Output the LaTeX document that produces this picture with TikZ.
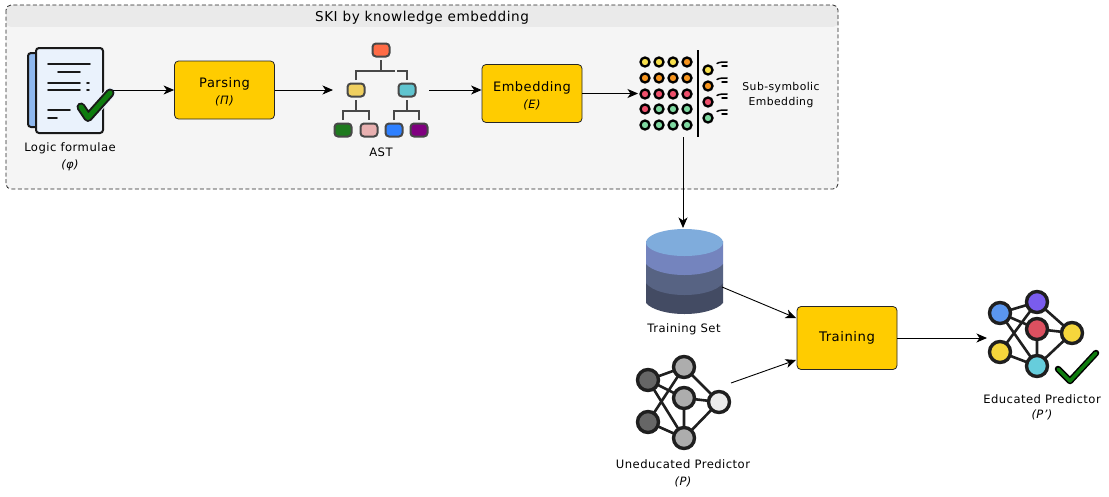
\documentclass[tikz,border=0pt]{standalone}
\usepackage{fontspec}
\setmainfont[LetterSpace=4]{DejaVu Sans}
\usetikzlibrary{arrows.meta}
\definecolor{boxyellow}{HTML}{FFCC00}
\definecolor{grpfill}{HTML}{F5F5F5}
\definecolor{grphead}{HTML}{EAEAEA}
\definecolor{chk}{HTML}{0E7C0E}
\definecolor{astline}{HTML}{484848}
\definecolor{dotyel}{HTML}{F7DF4B}
\definecolor{dotora}{HTML}{F7941D}
\definecolor{dotred}{HTML}{EE4F6B}
\definecolor{dotgrn}{HTML}{7ED8A0}
\definecolor{pagefill}{HTML}{EAF2FC}
\definecolor{pageback}{HTML}{8FB8EE}
\tikzset{
  x=1pt,y=-1pt,
  conn/.style={draw=black,line width=0.9pt,-{Stealth[length=10.5pt,width=9pt,inset=3pt]}},
  procbox/.style={draw=black!85,line width=0.8pt,fill=boxyellow,rounded corners=4pt,align=center,inner sep=0pt,font=\fontsize{13}{17}\selectfont},
  lbl/.style={align=center,inner sep=0pt,font=\fontsize{11.6}{17}\selectfont},
  astbox/.style={draw=astline,line width=2pt,rounded corners=3.5pt,minimum width=17pt,minimum height=13pt,inner sep=0pt},
  astlink/.style={draw=astline,line width=1.8pt},
  dotn/.style={circle,draw=black,line width=2.3pt,minimum size=9pt,inner sep=0pt},
  nnode/.style={circle,draw=black!88,line width=3.4pt,minimum size=21pt,inner sep=0pt},
  nlink/.style={draw=black!88,line width=2.6pt},
  doctext/.style={draw=black!90,line width=1.7pt,line cap=round},
}
\newcommand{\subi}[1]{{\fontsize{11.5}{12}\selectfont\itshape #1}}
\begin{document}
\begin{tikzpicture}
\useasboundingbox (0,0) rectangle (1109,496);
\fill[white] (0,0) rectangle (1109,496);
% group
\fill[grpfill,rounded corners=5pt] (6,5) rectangle (838,189);
\fill[grphead,rounded corners=5pt] (6,5) -- (838,5) -- (838,27) -- (6,27) -- cycle;
\fill[grpfill] (6,27) rectangle (838,40);
\draw[black!85,line width=0.8pt,dash pattern=on 4pt off 2.5pt,rounded corners=5pt] (6,5) rectangle (838,189);
\node[inner sep=0pt,font=\fontsize{13.6}{15}\selectfont] (title) at (422,18) {SKI by knowledge embedding};

% document icon
\node[inner sep=0pt,minimum width=85pt,minimum height=85pt] (doc) at (70.5,90) {};
\draw[black!90,line width=2pt,fill=pageback,rounded corners=3pt] (28,53) rectangle (44,127);
\draw[black!90,line width=2pt,fill=pagefill,rounded corners=3pt] (36,48) rectangle (103,133);
\draw[doctext] (48,64) -- (90,64) (58,72) -- (80,72) (48,83) -- (80,83) (87,83) -- (89,83) (48,90) -- (80,90) (87,90) -- (89,90) (48,110) -- (70,110) (48,118) -- (57,118);
\draw[pagefill,line width=11pt,line cap=round,line join=round] (81,107) -- (88,117.5) -- (110,93);
\draw[black!90,line width=9pt,line cap=round,line join=round] (81,107) -- (88,117.5) -- (110,93);
\draw[chk,line width=5pt,line cap=round,line join=round] (81,107) -- (88,117.5) -- (110,93);
\node[lbl] (doclbl) at (70,157) {Logic formulae\\\subi{(φ)}};

% boxes
\node[procbox,minimum width=100pt,minimum height=58pt] (parse) at (224.5,90) {\rule{0pt}{14.5pt}Parsing\\\subi{(Π)}};
\node[procbox,minimum width=100pt,minimum height=58pt] (embed) at (532,93.5) {\rule{0pt}{14.5pt}Embedding\\\subi{(E)}};
\node[procbox,minimum width=100pt,minimum height=63pt,font=\fontsize{13.2}{16}\selectfont] (train) at (847,338) {Training};

% AST icon
\node[inner sep=0pt,minimum width=96pt,minimum height=94pt] (ast) at (381,90) {};
\draw[astlink] (381,60) -- (381,71) (356,80) -- (356,71) -- (395,71) (397,71) -- (407,71) -- (407,80);
\draw[astlink] (356,100) -- (356,111) (343,120) -- (343,111) -- (369,111) -- (369,120);
\draw[astlink] (407,100) -- (407,111) (394,120) -- (394,111) -- (419,111) -- (419,120);
\node[astbox,fill={rgb,255:red,255;green,107;blue,69}] (a0) at (381,50) {};
\node[astbox,fill={rgb,255:red,240;green,208;blue,96}] (a1) at (356,90) {};
\node[astbox,fill={rgb,255:red,95;green,196;blue,207}] (a2) at (407,90) {};
\node[astbox,fill={rgb,255:red,30;green,122;blue,30}] (a3) at (343,130) {};
\node[astbox,fill={rgb,255:red,232;green,176;blue,176}] (a4) at (369,130) {};
\node[astbox,fill={rgb,255:red,46;green,128;blue,255}] (a5) at (394,130) {};
\node[astbox,fill={rgb,255:red,128;green,0;blue,128}] (a6) at (419,130) {};
\node[lbl] (astlbl) at (381,152) {AST};

% sub-symbolic icon
\node[inner sep=0pt,minimum width=91pt,minimum height=87pt] (subs) at (683.5,93.5) {};
\foreach \x/\c [count=\i] in {645/dotyel,659/dotyel,673/dotyel,687/dotora} \node[dotn,fill=\c] (r1\i) at (\x,62) {};
\foreach \x [count=\i] in {645,659,673,687} \node[dotn,fill=dotora] (r2\i) at (\x,78) {};
\foreach \x [count=\i] in {645,659,673,687} \node[dotn,fill=dotred] (r3\i) at (\x,94) {};
\foreach \x/\c [count=\i] in {645/dotred,659/dotgrn,673/dotgrn,687/dotgrn} \node[dotn,fill=\c] (r4\i) at (\x,109) {};
\foreach \x [count=\i] in {645,659,673,687} \node[dotn,fill=dotgrn] (r5\i) at (\x,125) {};
\draw[black,line width=2pt] (698,50) -- (698,137);
\foreach \y/\c [count=\i] in {70/dotyel,86/dotora,102/dotred,118/dotgrn}{
  \node[dotn,fill=\c] (o\i) at (708,\y) {};
  \draw[black,line width=1.5pt,line cap=round] (717,\y-6.5) .. controls (719,\y-8) and (723,\y-8) .. (727,\y-8);
  \draw[black,line width=1.5pt,line cap=round] (722,\y-4) -- (727,\y-4);
}
\node[lbl,font=\fontsize{10.8}{15}\selectfont] (subslbl) at (781,95) {Sub-symbolic\\Embedding};

% training set cylinder
\node[inner sep=0pt,minimum width=77pt,minimum height=86pt] (cyl) at (684.5,271) {};
\fill[fill={rgb,255:red,67;green,75;blue,99}] (646,283) -- (646,303) .. controls (652,310) and (668,314) .. (684.5,314) .. controls (701,314) and (717,310) .. (723,303) -- (723,283) -- cycle;
\fill[fill={rgb,255:red,87;green,99;blue,131}] (646,264) -- (646,283) .. controls (652,291) and (668,295) .. (684.5,295) .. controls (701,295) and (717,291) .. (723,283) -- (723,264) -- cycle;
\fill[fill={rgb,255:red,116;green,132;blue,190}] (646,241) -- (646,264) .. controls (652,271) and (668,275) .. (684.5,275) .. controls (701,275) and (717,271) .. (723,264) -- (723,241) -- cycle;
\fill[fill={rgb,255:red,127;green,172;blue,220}] (684.5,242.5) ellipse [x radius=38.5,y radius=13.5];
\node[lbl] (cyllbl) at (684,329) {Training Set};

% uneducated network
\node[inner sep=0pt,minimum width=94pt,minimum height=94pt] (unet) at (684,403) {};
\coordinate (ulb) at (648,422); \coordinate (ult) at (648,380); \coordinate (utp) at (684,367);
\coordinate (uct) at (684,398); \coordinate (urt) at (719,402); \coordinate (ubt) at (684,438);
\draw[nlink] (ult) -- (utp) (ult) -- (uct) (ult) -- (ubt) (ulb) -- (utp) (ulb) -- (ubt) (utp) -- (urt) (uct) -- (urt) (uct) -- (ubt) (ubt) -- (urt);
\node[nnode,fill=black!60] (un1) at (ult) {};
\node[nnode,fill=black!60] (un2) at (ulb) {};
\node[nnode,fill=black!32] (un3) at (utp) {};
\node[nnode,fill=black!32] (un4) at (uct) {};
\node[nnode,fill=black!32] (un5) at (ubt) {};
\node[nnode,fill=black!8] (un6) at (urt) {};
\node[lbl] (unetlbl) at (683,473.5) {Uneducated Predictor\\\subi{(P)}};

% educated network
\node[inner sep=0pt,minimum width=100pt,minimum height=94pt] (enet) at (1037,337) {};
\coordinate (elb) at (1000,352); \coordinate (elt) at (1000,313); \coordinate (etp) at (1037,302);
\coordinate (ect) at (1037,329); \coordinate (ert) at (1072,333); \coordinate (ebt) at (1037,366);
\draw[nlink] (elt) -- (etp) (elt) -- (ect) (elt) -- (ebt) (elb) -- (etp) (elb) -- (ebt) (etp) -- (ert) (ect) -- (ert) (ect) -- (ebt) (ebt) -- (ert);
\node[nnode,fill={rgb,255:red,91;green,150;blue,238}] (en1) at (elt) {};
\node[nnode,fill={rgb,255:red,245;green,214;blue,60}] (en2) at (elb) {};
\node[nnode,fill={rgb,255:red,122;green,92;blue,238}] (en3) at (etp) {};
\node[nnode,fill={rgb,255:red,220;green,80;blue,96}] (en4) at (ect) {};
\node[nnode,fill={rgb,255:red,102;green,205;blue,220}] (en5) at (ebt) {};
\node[nnode,fill={rgb,255:red,245;green,214;blue,60}] (en6) at (ert) {};
\draw[black,line width=6.5pt,line cap=round,line join=round] (1058,369) -- (1070,381) -- (1096,353);
\draw[chk,line width=3.5pt,line cap=round,line join=round] (1058,369) -- (1070,381) -- (1096,353);
\node[lbl,font=\fontsize{11.6}{15}\selectfont] (enetlbl) at (1042,407.5) {Educated Predictor\\\subi{(P')}};

% connectors
\coordinate (setout) at (722,287); \coordinate (trainin1) at (796,318);
\coordinate (unout) at (731,383); \coordinate (trainin2) at (796,360);
\coordinate (subsout) at (683,137); \coordinate (cyltop) at (683,228);
\coordinate (docout) at (113,90); \coordinate (astin) at (333,90);
\coordinate (astout) at (429,90); \coordinate (subsin) at (638,93.5);
\coordinate (enetin) at (987,338);
\draw[conn] (docout) -- (parse.west);
\draw[conn] (parse.east) -- (astin);
\draw[conn] (astout) -- (embed.west |- astout);
\draw[conn] (embed.east) -- (subsin);
\draw[conn] (subsout) -- (cyltop);
\draw[conn] (setout) -- (trainin1);
\draw[conn] (unout) -- (trainin2);
\draw[conn] (train.east) -- (enetin);
\end{tikzpicture}
\end{document}
